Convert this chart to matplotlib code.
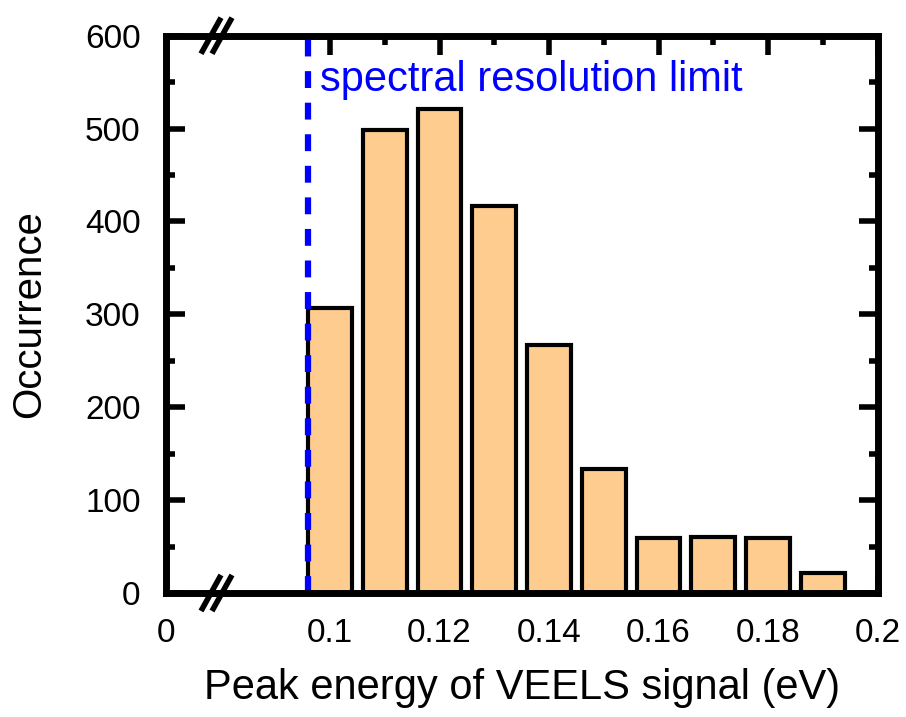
import matplotlib.pyplot as plt
from matplotlib.lines import Line2D
from matplotlib.ticker import FixedLocator

plt.rcParams['font.family'] = ['Liberation Sans', 'DejaVu Sans']

# histogram of VEELS peak energies: bin centres (eV) and counts
bin_centers = [0.10, 0.11, 0.12, 0.13, 0.14, 0.15, 0.16, 0.17, 0.18, 0.19]
counts = [307, 499, 521, 417, 267, 134, 59, 60, 59, 22]
bin_width = 0.008
resolution_limit = 0.096

x_major = [0.1, 0.12, 0.14, 0.16, 0.18, 0.2]
x_major_labels = ['0.1', '0.12', '0.14', '0.16', '0.18', '0.2']
x_minor = [0.11, 0.13, 0.15, 0.17, 0.19]
y_major = [0, 100, 200, 300, 400, 500, 600]
y_minor = [50, 150, 250, 350, 450, 550]

W, H = 906, 717
bar_color = '#ffcc90'
blue = '#0000ff'


def px_box(x0, x1, y0, y1):
    # axes rectangle from pixel edges (y measured from the top)
    return [x0 / W, 1 - y1 / H, (x1 - x0) / W, (y1 - y0) / H]


def plot_histogram():
    fig = plt.figure(figsize=(W / 100, H / 100), dpi=100)

    top, bottom = 35.7, 593
    split = 216
    # left stub only carries the zero of the broken x axis
    ax_left = fig.add_axes(px_box(165.5, split, top, bottom))
    ax = fig.add_axes(px_box(split, 877.5, top, bottom), sharey=ax_left)

    for a in (ax_left, ax):
        for s in a.spines.values():
            s.set_linewidth(5)
    ax_left.spines['right'].set_visible(False)
    ax.spines['left'].set_visible(False)

    # x scale of the main panel: 0.01 eV ~ 54.75 px
    ax.set_xlim(0.2 - (877.5 - split) / 5475, 0.2)
    ax_left.set_xlim(0, 0.01)
    ax_left.set_ylim(0, 600)

    ax.bar(bin_centers, counts, width=bin_width, color=bar_color,
           edgecolor='black', linewidth=3, zorder=2)
    ax.axvline(resolution_limit, color=blue, lw=4.5,
               linestyle=(0, (2.7, 2.35)), zorder=2.4)
    ax.text(0.0982, 541, 'spectral resolution limit', color=blue,
            fontsize=30, ha='left', va='baseline')

    ax.xaxis.set_major_locator(FixedLocator(x_major))
    ax.set_xticklabels(x_major_labels)
    ax.xaxis.set_minor_locator(FixedLocator(x_minor))
    ax_left.yaxis.set_major_locator(FixedLocator(y_major))
    ax_left.yaxis.set_minor_locator(FixedLocator(y_minor))

    ax.tick_params(axis='x', which='both', direction='in', top=True,
                   bottom=True, width=4, labelsize=24, pad=18)
    ax.tick_params(axis='y', which='both', direction='in', left=False,
                   right=True, labelleft=False, width=4)
    ax.tick_params(which='major', length=14)
    ax.tick_params(which='minor', length=6.5)

    ax_left.set_xticks([0])
    ax_left.set_xticklabels(['0'])
    ax_left.tick_params(axis='x', length=0, labelsize=24, pad=18)
    ax_left.tick_params(axis='y', which='both', direction='in', left=True,
                        right=False, width=4, labelsize=24, pad=18)
    ax_left.tick_params(axis='y', which='major', length=14)
    ax_left.tick_params(axis='y', which='minor', length=6.5)

    ax.set_xlabel('Peak energy of VEELS signal (eV)', fontsize=30)
    ax.xaxis.set_label_coords(522 / W, 1 - 668 / H, transform=fig.transFigure)
    ax_left.set_ylabel('Occurrence', fontsize=29, va='center')
    ax_left.yaxis.set_label_coords(29 / W, 1 - 314 / H, transform=fig.transFigure)

    # axis break marks (//) on the top and bottom frame
    for y in (bottom, top):
        for xc in (211, 222):
            fig.add_artist(Line2D([(xc - 10) / W, (xc + 10) / W],
                                  [1 - (y + 18) / H, 1 - (y - 18) / H],
                                  transform=fig.transFigure, color='black',
                                  lw=4, solid_capstyle='butt'))

    fig.savefig('out.png', dpi=100)


if __name__ == "__main__":
    plot_histogram()
